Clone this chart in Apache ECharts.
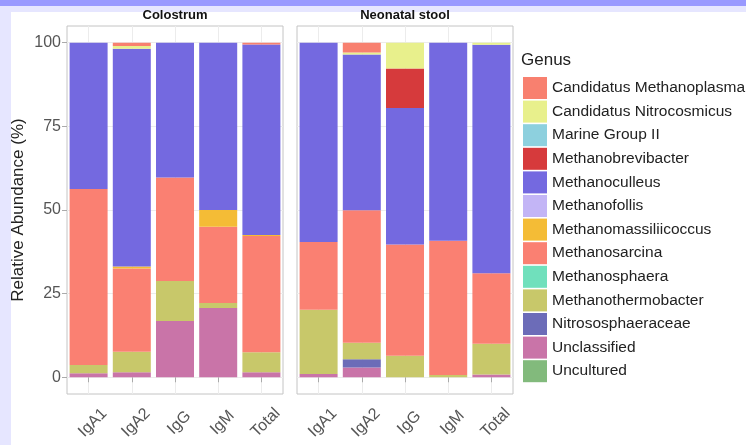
<!DOCTYPE html>
<html><head><meta charset="utf-8">
<script src="https://cdn.jsdelivr.net/npm/echarts@6/dist/echarts.min.js"></script>
<style>html,body{margin:0;padding:0;background:#fff}#c{width:746px;height:445px}</style>
</head><body><div id="c"></div>
<script>
const categories = ['IgA1','IgA2','IgG','IgM','Total'];
const panels = ['Colostrum','Neonatal stool'];
const yTicks = [0,25,50,75,100];
// stacking order: bottom first
const genera = ['Uncultured','Unclassified','Nitrososphaeraceae','Methanothermobacter','Methanosphaera','Methanosarcina','Methanomassiliicoccus','Methanofollis','Methanoculleus','Methanobrevibacter','Marine Group II','Candidatus Nitrocosmicus','Candidatus Methanoplasma'];
const legendOrder = ['Candidatus Methanoplasma','Candidatus Nitrocosmicus','Marine Group II','Methanobrevibacter','Methanoculleus','Methanofollis','Methanomassiliicoccus','Methanosarcina','Methanosphaera','Methanothermobacter','Nitrososphaeraceae','Unclassified','Uncultured'];
const colors = {
  'Candidatus Methanoplasma':'#F8806F','Candidatus Nitrocosmicus':'#E8F08C','Marine Group II':'#8DD0DE',
  'Methanobrevibacter':'#D63A3C','Methanoculleus':'#7469E0','Methanofollis':'#C3B5F6',
  'Methanomassiliicoccus':'#F4BC36','Methanosarcina':'#FA8072','Methanosphaera':'#70E0BC',
  'Methanothermobacter':'#C8C86A','Nitrososphaeraceae':'#6C6CB8','Unclassified':'#C974A8','Uncultured':'#82BA7C'
};
// Colostrum segment values [IgA1, IgA2, IgG, IgM, Total]
const colUncultured = [0,0,0,0,0];
const colUnclassified = [1.2,1.5,16.8,20.7,1.5];
const colNitrososphaeraceae = [0,0,0,0,0];
const colMethanothermobacter = [2.5,6.1,12.0,1.5,6.0];
const colMethanosphaera = [0,0,0,0,0];
const colMethanosarcina = [52.6,24.9,30.9,22.8,34.7];
const colMethanomassiliicoccus = [0,0.6,0,5.0,0.3];
const colMethanofollis = [0,0,0,0,0];
const colMethanoculleus = [43.7,65.1,40.3,50.0,57.0];
const colMethanobrevibacter = [0,0,0,0,0];
const colMarineGroupII = [0,0,0,0,0];
const colCandNitrocosmicus = [0,0.8,0,0,0];
const colCandMethanoplasma = [0,1.0,0,0,0.5];
// Neonatal stool segment values
const stoUncultured = [0,0,0,0,0];
const stoUnclassified = [1.0,2.9,0,0,0.8];
const stoNitrososphaeraceae = [0,2.5,0,0,0];
const stoMethanothermobacter = [19.2,4.9,6.4,0.7,9.2];
const stoMethanosphaera = [0,0,0,0,0];
const stoMethanosarcina = [20.2,39.6,33.3,40.1,21.1];
const stoMethanomassiliicoccus = [0,0,0,0,0];
const stoMethanofollis = [0,0,0,0,0];
const stoMethanoculleus = [59.6,46.6,40.8,59.2,68.3];
const stoMethanobrevibacter = [0,0,11.8,0,0];
const stoMarineGroupII = [0,0,0,0,0];
const stoCandNitrocosmicus = [0,0.6,7.7,0,0.6];
const stoCandMethanoplasma = [0,2.9,0,0,0];

const colData = [colUncultured,colUnclassified,colNitrososphaeraceae,colMethanothermobacter,colMethanosphaera,colMethanosarcina,colMethanomassiliicoccus,colMethanofollis,colMethanoculleus,colMethanobrevibacter,colMarineGroupII,colCandNitrocosmicus,colCandMethanoplasma];
const stoData = [stoUncultured,stoUnclassified,stoNitrososphaeraceae,stoMethanothermobacter,stoMethanosphaera,stoMethanosarcina,stoMethanomassiliicoccus,stoMethanofollis,stoMethanoculleus,stoMethanobrevibacter,stoMarineGroupII,stoCandNitrocosmicus,stoCandMethanoplasma];
const panelData = [colData, stoData];

const FONT = '"Liberation Sans", Arial, sans-serif';
const gridLeft = [67, 297];
const series = [];
panelData.forEach((pd, p) => {
  genera.forEach((g, i) => {
    series.push({type:'bar', name:g, stack:'s'+p, xAxisIndex:p, yAxisIndex:p,
      barWidth:38, data:pd[i], itemStyle:{color:colors[g]}, emphasis:{disabled:true}});
  });
});
const chart = echarts.init(document.getElementById('c'), null, {renderer:'canvas'});
chart.setOption({
  animation:false,
  backgroundColor:'#ffffff',
  graphic:[
    {type:'rect', shape:{x:0,y:0,width:746,height:6}, style:{fill:'#9999FF'}, z:-10},
    {type:'rect', shape:{x:0,y:6,width:746,height:6}, style:{fill:'#E6E6FF'}, z:-10},
    {type:'rect', shape:{x:0,y:6,width:11,height:439}, style:{fill:'#E6E6FF'}, z:-10}
  ],
  title:[
    {text:panels[0], left:175, top:9, padding:0, textAlign:'center', textStyle:{fontFamily:FONT,fontSize:13,fontWeight:'bold',color:'#111'}},
    {text:panels[1], left:405, top:9, padding:0, textAlign:'center', textStyle:{fontFamily:FONT,fontSize:13,fontWeight:'bold',color:'#111'}},
    {text:'Genus', left:521, top:52, padding:0, textStyle:{fontFamily:FONT,fontSize:17,fontWeight:'normal',color:'#222'}}
  ],
  legend:{orient:'vertical', left:523, top:77, padding:0, itemWidth:24, itemHeight:22, itemGap:1.6,
    icon:'rect', data:legendOrder, selectedMode:false,
    textStyle:{fontFamily:FONT,fontSize:15.5,color:'#222'}},
  grid:gridLeft.map(l => ({left:l, top:26, width:216, height:368, show:true, borderColor:'#c4c4c4', borderWidth:1, backgroundColor:'#fff'})),
  xAxis:[0,1].map(i => ({type:'category', gridIndex:i, data:categories,
    axisLine:{show:false},
    axisTick:{show:true, alignWithLabel:true, length:5, lineStyle:{color:'#aaaaaa'}},
    axisLabel:{rotate:45, align:'center', verticalAlign:'middle', margin:33, padding:[0,0,0,12], fontFamily:FONT, fontSize:16, color:'#555'},
    splitLine:{show:true, alignWithLabel:true, lineStyle:{color:'#ececec'}}})),
  yAxis:[0,1].map(i => ({type:'value', gridIndex:i, min:-5, max:105,
    name: i===0 ? 'Relative Abundance (%)' : '', nameLocation:'middle', nameGap:40,
    nameTextStyle:{fontFamily:FONT,fontSize:17,color:'#222'},
    axisLine:{show:false},
    axisTick:{show:i===0, length:5, customValues:yTicks, lineStyle:{color:'#aaaaaa'}},
    axisLabel:{show:i===0, customValues:yTicks, margin:6, fontFamily:FONT, fontSize:16, color:'#555'},
    splitLine:{show:true, lineStyle:{color:'#ececec'}}})),
  series:series
});
</script></body></html>
